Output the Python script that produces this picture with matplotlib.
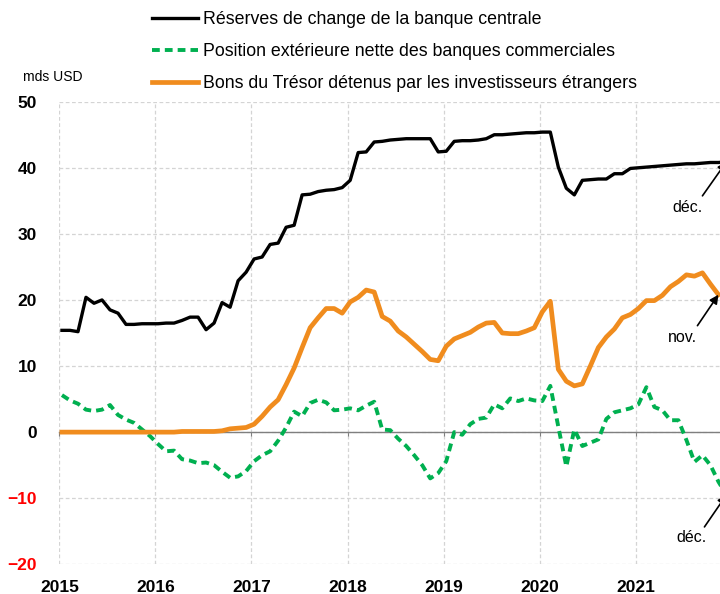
"""Reserves, net external position of banks and T-bills held by foreigners."""

import matplotlib

matplotlib.use('Agg')

import matplotlib.pyplot as plt
import numpy as np

plt.rcParams['font.family'] = ['Liberation Sans', 'DejaVu Sans']

# monthly data, Jan 2015 - Dec 2021 (mds USD)
reserves = [
    15.4, 15.4, 15.2, 20.4, 19.5, 20.0, 18.5, 18.0, 16.3, 16.3, 16.4, 16.4,
    16.4, 16.5, 16.5, 16.9, 17.4, 17.4, 15.5, 16.5, 19.6, 18.9, 22.9, 24.2,
    26.2, 26.5, 28.4, 28.6, 31.0, 31.3, 35.9, 36.0, 36.4, 36.6, 36.7, 37.0,
    38.1, 42.3, 42.4, 43.9, 44.0, 44.2, 44.3, 44.4, 44.4, 44.4, 44.4, 42.4,
    42.5, 44.0, 44.1, 44.1, 44.2, 44.4, 45.0, 45.0, 45.1, 45.2, 45.3, 45.3,
    45.4, 45.4, 40.1, 36.9, 35.9, 38.1, 38.2, 38.3, 38.3, 39.1, 39.1, 39.9,
    40.0, 40.1, 40.2, 40.3, 40.4, 40.5, 40.6, 40.6, 40.7, 40.8, 40.8, 40.9,
]
net_position = [
    5.6, 4.8, 4.3, 3.4, 3.2, 3.4, 4.1, 2.6, 1.9, 1.4, 0.4, -0.6,
    -1.8, -2.9, -2.8, -4.1, -4.3, -4.7, -4.6, -5.0, -6.0, -6.9, -6.7, -5.9,
    -4.4, -3.5, -2.9, -1.3, 0.7, 3.1, 2.4, 4.4, 4.9, 4.5, 3.3, 3.4,
    3.6, 3.3, 4.0, 4.6, 0.4, 0.3, -1.0, -2.1, -3.5, -5.0, -7.0, -6.2,
    -4.4, 0.0, -0.4, 1.2, 2.0, 2.2, 4.2, 3.6, 5.1, 4.7, 5.1, 4.8,
    4.7, 7.0, 0.8, -5.2, 0.4, -2.1, -1.6, -1.1, 2.0, 3.0, 3.3, 3.6,
    4.2, 6.8, 3.8, 3.3, 1.8, 1.8, -1.2, -4.5, -3.5, -5.0, -7.5, -9.5,
]
# Jan 2015 - Nov 2021
tbills = [
    0.0, 0.0, 0.0, 0.0, 0.0, 0.0, 0.0, 0.0, 0.0, 0.0, 0.0, 0.0,
    0.0, 0.0, 0.0, 0.1, 0.1, 0.1, 0.1, 0.1, 0.2, 0.5, 0.6, 0.7,
    1.2, 2.4, 3.8, 4.9, 7.2, 9.7, 12.8, 15.8, 17.3, 18.7, 18.7, 18.0,
    19.7, 20.4, 21.5, 21.2, 17.5, 16.8, 15.3, 14.4, 13.3, 12.2, 11.0, 10.8,
    13.0, 14.1, 14.6, 15.1, 15.9, 16.5, 16.6, 15.0, 14.9, 14.9, 15.3, 15.8,
    18.2, 19.8, 9.5, 7.7, 7.0, 7.3, 10.0, 12.8, 14.4, 15.6, 17.3, 17.8,
    18.7, 19.9, 19.9, 20.7, 22.0, 22.8, 23.8, 23.6, 24.1, 22.4, 20.8,
]
years = [2015, 2016, 2017, 2018, 2019, 2020, 2021]
y_ticks = [50, 40, 30, 20, 10, 0, -10, -20]

labels = [
    'Réserves de change de la banque centrale',
    'Position extérieure nette des banques commerciales',
    'Bons du Trésor détenus par les investisseurs étrangers',
]

months = 2015 + (np.arange(len(reserves)) + 0.33) / 12

BLACK = '#000000'
GREEN = '#00b050'
ORANGE = '#f08c1e'

fig = plt.figure(figsize=(7.2, 5.94), dpi=100)
ax = fig.add_axes([0.0824, 0.05, 0.934, 0.7788])

l1, = ax.plot(months, reserves, color=BLACK, lw=2.4, zorder=4)
l2, = ax.plot(months, net_position, color=GREEN, lw=2.8, dashes=(2.0, 1.3), zorder=3)
l3, = ax.plot(months[:len(tbills)], tbills, color=ORANGE, lw=3.4, zorder=3)

ax.set_xlim(2015, 2022)
ax.set_ylim(-20, 50)
ax.set_xticks(years)
ax.set_yticks(y_ticks)
ax.grid(True, color='#d4d4d4', linestyle=(0, (3, 2)), lw=0.9)
ax.set_axisbelow(True)

for side in ['left', 'right', 'top']:
    ax.spines[side].set_visible(False)
ax.spines['bottom'].set_position(('data', 0))
ax.spines['bottom'].set_color('#7f7f7f')
ax.spines['bottom'].set_linewidth(1.0)
ax.tick_params(axis='x', direction='out', length=3, color='#7f7f7f', labelbottom=False)
ax.tick_params(axis='y', length=0, pad=16, labelsize=12.5)
for lab in ax.get_yticklabels():
    lab.set_fontweight('bold')
    if float(lab.get_text().replace('−', '-')) < 0:
        lab.set_color('red')

sec = ax.secondary_xaxis('bottom')
sec.set_xticks(years)
sec.spines['bottom'].set_visible(False)
sec.tick_params(length=0, pad=11, labelsize=12.5)
for lab in sec.get_xticklabels():
    lab.set_fontweight('bold')

fig.text(23 / 720, 1 - 77 / 594, 'mds USD', fontsize=10, va='center', ha='left')

fig.legend(
    [l1, l2, l3], labels,
    loc='upper left', bbox_to_anchor=(152 / 720, 1 - 11 / 594),
    frameon=False, fontsize=12.8, handlelength=2.6, handletextpad=0.29,
    labelspacing=0.85, borderaxespad=0, borderpad=0,
)

# end-of-series markers
arrow = dict(arrowstyle='-|>', color='black', lw=1.2, mutation_scale=13, shrinkA=0, shrinkB=0)
notes = [
    ('déc.', months[-1], reserves[-1], (-24, -34), (-39, -46)),
    ('nov.', months[len(tbills) - 1], tbills[-1], (-21, -31), (-36, -43)),
    ('déc.', months[-1], net_position[-1], (-22, -32), (-35, -43)),
]
for text, x, y, tail, pos in notes:
    ax.annotate('', xy=(x, y), xytext=tail, textcoords='offset pixels',
                arrowprops=arrow, annotation_clip=False)
    ax.annotate(text, xy=(x, y), xytext=pos, textcoords='offset pixels',
                ha='center', va='center', fontsize=11.5, annotation_clip=False)

fig.savefig('out.png', dpi=100)
